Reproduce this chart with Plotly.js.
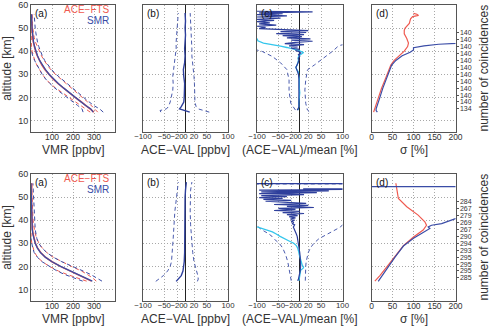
<!DOCTYPE html>
<html><head><meta charset="utf-8">
<script src="https://cdn.plot.ly/plotly-3.0.1.min.js"></script>
<style>html,body{margin:0;padding:0;background:#fff}#chart{width:494px;height:327px}</style>
</head><body><div id="chart"></div>
<script>
// ---------- DATA ----------
// (a) VMR profiles, altitude grid [km]
const altA = [13.6,15,16.5,18,20,22,24,26,28,30,32,34,36,38,40,42,44,46,48,50,52,54,56];
const aceMeanTop = [300,282,262,240,210,182,155,128,105,85,67,52,40,30,22,16,11,8,6,4.5,3.5,3,2.5];
const aceStdTop  = [18,22,26,30,34,36,37,37,35,31,27,24,22,20,17,14,10,7,5,4,3.2,2.8,2.7];
const smrMeanTop = [296,285,260,238,210,183,156,130,106,86,69,54,41,31,23,17,12,9,7,5,4,3.5,3];
const smrStdTop  = [48,42,38,38,40,42,42,40,37,33,29,26,24,23,22,20,19,17,16,15,14,13,12];
const aceMeanBot = [288,255,220,185,140,100,68,46,31,21,14,10,7,5.5,4.5,4,3.5,3,3,3,2.5,2.5,2.5];
const aceStdBot  = [23,38,48,55,52,46,37,29,22,17,13,11,9,7,5.6,4.5,3.5,2.6,2.2,2,1.5,1.5,1.5];
const smrMeanBot = [292,258,222,186,141,100,68,45,30,20,13,9,6,5,4,3.5,3,2.5,2,1.5,1,0.5,0];
const smrStdBot  = [46,55,62,62,56,47,38,30,22,17,15,14,14,14,14,14,14,13,12,11,10,10,9];

// (b) ACE-VAL [ppbv]: mean difference and +/- sigma curves
const altB1  = [13.6,14.3,15,16,18,20,23,26,29,32,35,38,41,44,47,50,53,56.5];
const meanB1 = [10,-5,-14,-10,-4,-3,-2,-2,-4,-5,-2,-1,-2,-1,0,-1,0,-1];
const loB1   = [-58,-60,-45,-40,-36,-33,-30,-29,-30,-28,-26,-24,-22,-22,-21,-19,-18,-17];
const hiB1   = [56,40,30,25,22,22,22,21,20,18,17,15,15,14,13,12,12,11];
const altB2  = [13.5,14.5,16,18,20,22,26,32,38,44,50,53,56.5];
const meanB2 = [-22,-18,-10,-6,-4,-3,-2,-2,-2,-2,-1,0,2];
const loB2   = [-70,-62,-52,-42,-36,-33,-31,-29,-27,-25,-21,-19,-17];
const hiB2   = [28,30,29,26,22,20,17,14,12,11,11,12,15];

// (c) (ACE-VAL)/mean [%]
const altC1 = [57.3,57.0,56.6,56.2,55.8,55.3,54.8,54.3,53.8,53.3,52.8,52.3,51.8,51.3,50.8,50.3,49.8,49.3,48.9,48.5,48.1,47.6,47.2,46.7,46.3,45.8,45.3,44.8,44.3,43.8,43.3,42.8,42.3,41.8,41.3,40.8,40.3,39.8,39.2,38.5,37.8,37,36,35,34,33,32,31,30,28,26,24,22,20,18,16,15,14.5];
const relC1 = [-100,30,-95,-40,-100,-30,-100,-45,-100,-60,-100,-70,-95,-55,-100,-80,-95,-30,20,-45,15,-55,10,-40,5,-30,25,-20,30,-10,-35,10,-25,-5,-20,0,-10,-2,2,-3,0,-3,-2,-4,-6,-9,-7,-4,-3,-2,-2,-1,-1,-1,-2,-2,-4,-6];
const altC1c = [14.5,16,18,20,22,24,26,28,30,31,32,33,34,35,36,37,37.5,38,38.8,39.4,40.3,41,41.6,42.2,42.8,43.5,44.5,45.5];
const cyanC1 = [-4,-2,-2,-1,0,-1,-1,-1,-3,-3,-7,-9,-6,-4,-3,-4,-3,-2,4,9,-3,-15,-30,-45,-65,-85,-98,-100];
const loC1alt = [14.5,17.5,20,23,27.5,30,32,35,37.7,39.9,40.5,42];
const loC1    = [-10,-21,-23,-25,-25,-27,-30,-45,-64,-88,-98,-130];
const hiC1alt = [13.8,14.5,17.4,20,23.2,27.5,30,31.9,34,37.7,40,42,42.6,44];
const hiC1    = [22,18,14,13,12,14,16,18,34,61,77,89,96,130];

const altC2 = [55.85,55.75,53.7,53.6,53.3,53.0,52.7,52.3,51.9,51.5,51.1,50.6,50.2,49.8,49.4,49.0,48.6,48.2,47.8,47.3,46.8,46.4,46.0,45.5,45.1,44.7,44.2,43.8,43.3,42.9,42.4,42.0,41.5,41.0,40.5,40.0,39.5,39.0,38.5,38.0,37,36,35,34,33,32,30,28,26,24,22,20,18,16,14.5,13.8];
const relC2 = [-400,400,400,8,105,-95,68,-90,40,-95,10,-90,-30,-95,-40,-85,-20,-80,-35,15,-60,20,-30,33,-50,-10,-60,0,-40,10,-30,-5,-25,-10,-22,-12,-20,-14,-18,-12,-15,-12,-9,-8,-6,-5,-3,-1,0,1,2,2,1,-1,-3,-5];
const altC2c = [13.7,15,16,17,18.3,19.2,19.7,20.4,21.5,22.6,24,25,26,27,28,29,30,31,32,33,34,34.9,36,37.1];
const cyanC2 = [-2,-1,-1,0,2,8,9,6,4,2,0,-1,-2,-3,-5,-8,-14,-25,-37,-46,-55,-64,-82,-100];
const loC2alt = [13.8,16,19,22,25,28,30,31,33,34,36,37.5,40,55.6,55.8,55.9];
const loC2    = [-20,-22,-25,-28,-33,-40,-48,-55,-65,-72,-90,-100,-140,-400,400,400];
const hiC2alt = [13.8,17,20,22,24,26,28,30,32,33,34,35,36,37,38,40,56];
const hiC2    = [13,13,14,15,17,20,25,33,45,55,65,75,85,95,100,140,400];

// (d) sigma [%]
const sigAceTopAlt = [13.6,16,20,24,28,32,34,36,38,40,42,43.5,45.5,47.5,49,50,52,54,55,55.5,56,56.4];
const sigAceTop    = [5,9,16,24,33,41,46,54,65,78,86,88,84,78,78,80,90,93,98,112,108,100];
const sigSmrTopAlt = [13.6,14.3,15,16,20,24,28,31,34,36,38,39.5,40.5,41.5,42.3,43,43.6,44.2];
const sigSmrTop    = [14,11,11,13,20,27,35,42,48,58,73,92,100,100,125,160,200,280];
const sigAceBotAlt = [13.6,16,19.7,23.3,26,29,32.7,35.7,37.8,39.3,42.2,45.8,49.4,53,56];
const sigAceBot    = [8,20,36,52,64,76,100,123,131,127,111,84,64,60,58];
const sigSmrBotAlt = [13.5,16.8,20.1,24,28.8,32.2,34.2,36.4,37.1,37.8,38.5,40,40.7,42,48,54.4,54.6,58];
const sigSmrBot    = [16,28,40,56,76,100,119,139,135,143,167,191,200,260,500,3000,-3000,-500];

// number of coincidences (right axis of d)
const coincAlt = [48,45,42,39,36,33,30,27,24,21,18,15];
const coincTop = [140,140,140,140,140,140,140,140,140,140,140,134];
const coincBot = [284,267,279,269,267,290,294,293,295,295,295,285];

// tick labels
const altTicks = [10,20,30,40,50,60];
const vmrTicks = [100,200,300];
const diffTicks = [-100,-50,-20,0,20,50,100];
const sigTicks = [0,50,100,150,200];

// ---------- STYLE ----------
const RED = '#ef5a50', BLUE = '#3a4ca6', DBLUE = '#2e3f9c', DASHB = '#4a5bae', CYAN = '#35c6ec';
const DASH = '4px,3px';
const FONT = 'Liberation Sans, Arial, Helvetica, sans-serif';
const W = 494, H = 327;

const traces = [];
function line(x, y, xa, ya, color, width, dash) {
  traces.push({x: x, y: y, xaxis: xa, yaxis: ya, type: 'scatter', mode: 'lines',
    line: {color: color, width: width, dash: dash || 'solid'}, hoverinfo: 'skip', showlegend: false});
}
const minus = (m, s) => m.map((v, i) => v - s[i]);
const plus  = (m, s) => m.map((v, i) => v + s[i]);

function panelA(xa, ya, aM, aS, sM, sS) {
  line(minus(aM, aS), altA, xa, ya, RED, 1, DASH);
  line(plus(aM, aS), altA, xa, ya, RED, 1, DASH);
  line(minus(sM, sS), altA, xa, ya, BLUE, 1, DASH);
  line(plus(sM, sS), altA, xa, ya, BLUE, 1, DASH);
  line(aM, altA, xa, ya, RED, 1.6);
  line(sM, altA, xa, ya, BLUE, 1.3);
}
panelA('x', 'y', aceMeanTop, aceStdTop, smrMeanTop, smrStdTop);
panelA('x5', 'y5', aceMeanBot, aceStdBot, smrMeanBot, smrStdBot);

line(loB1, altB1, 'x2', 'y2', DASHB, 1, DASH);
line(hiB1, altB1, 'x2', 'y2', DASHB, 1, DASH);
line(meanB1, altB1, 'x2', 'y2', DBLUE, 1.4);
line(loB2, altB2, 'x6', 'y6', DASHB, 1, DASH);
line(hiB2, altB2, 'x6', 'y6', DASHB, 1, DASH);
line(meanB2, altB2, 'x6', 'y6', DBLUE, 1.4);

line(loC1, loC1alt, 'x3', 'y3', DASHB, 1, DASH);
line(hiC1, hiC1alt, 'x3', 'y3', DASHB, 1, DASH);
line(cyanC1, altC1c, 'x3', 'y3', CYAN, 1.3);
line(relC1, altC1, 'x3', 'y3', DBLUE, 1.2);
line(loC2, loC2alt, 'x7', 'y7', DASHB, 1, DASH);
line(hiC2, hiC2alt, 'x7', 'y7', DASHB, 1, DASH);
line(cyanC2, altC2c, 'x7', 'y7', CYAN, 1.3);
line(relC2, altC2, 'x7', 'y7', DBLUE, 1.2);

line(sigAceTop, sigAceTopAlt, 'x4', 'y4', RED, 1.2);
line(sigSmrTop, sigSmrTopAlt, 'x4', 'y4', BLUE, 1.2);
line(sigAceBot, sigAceBotAlt, 'x8', 'y8', RED, 1.2);
line(sigSmrBot, sigSmrBotAlt, 'x8', 'y8', BLUE, 1.2);

// invisible anchors for the right-hand coincidence axes
traces.push({x: [100], y: [30], xaxis: 'x4', yaxis: 'y9', type: 'scatter', mode: 'markers', marker: {opacity: 0}, hoverinfo: 'skip', showlegend: false});
traces.push({x: [100], y: [30], xaxis: 'x8', yaxis: 'y10', type: 'scatter', mode: 'markers', marker: {opacity: 0}, hoverinfo: 'skip', showlegend: false});

// ---------- LAYOUT ----------
const colPx = [[31, 115], [143, 228], [257, 342.5], [371.5, 455.5]];
const rowPx = [[5, 132], [174, 301]];
const xd = c => [colPx[c][0] / W, colPx[c][1] / W];
const yd = r => [1 - rowPx[r][1] / H, 1 - rowPx[r][0] / H];

const base = {showline: true, mirror: true, linecolor: '#555', linewidth: 1,
  showgrid: true, gridcolor: '#a8a8a8', griddash: '1px,2px', gridwidth: 1,
  zeroline: false, ticks: '', tickangle: 0, tickfont: {size: 8.5, color: '#333', family: FONT}, fixedrange: true};
const titleFont = {size: 12, color: '#333', family: FONT};

const layout = {width: W, height: H, margin: {l: 0, r: 0, t: 0, b: 0},
  paper_bgcolor: '#fff', plot_bgcolor: '#fff', showlegend: false,
  font: {family: FONT, size: 9, color: '#333'}, annotations: []};

const xTitles = ['VMR [ppbv]', 'ACE\u2212VAL [ppbv]', '(ACE\u2212VAL)/mean [%]', '\u03c3 [%]'];
const xRanges = [[0, 400], [-100, 100], [-100, 100], [0, 200]];
const xTickv = [vmrTicks, diffTicks, diffTicks, sigTicks];
const letters = ['(a)', '(b)', '(c)', '(d)'];

for (let r = 0; r < 2; r++) {
  for (let c = 0; c < 4; c++) {
    const n = r * 4 + c + 1;
    const xk = n === 1 ? 'xaxis' : 'xaxis' + n;
    const yk = n === 1 ? 'yaxis' : 'yaxis' + n;
    const xid = n === 1 ? 'x' : 'x' + n;
    const yid = n === 1 ? 'y' : 'y' + n;
    layout[xk] = Object.assign({}, base, {domain: xd(c), anchor: yid, range: xRanges[c],
      tickmode: 'array', tickvals: xTickv[c], ticklabelstandoff: -3,
      tickfont: {size: (c === 1 || c === 2) ? 7.8 : 8.5, color: '#333', family: FONT},
      ticktext: xTickv[c].map(v => v < 0 ? '\u2212' + Math.abs(v) : String(v)),
      zeroline: (c === 1 || c === 2), zerolinecolor: '#222', zerolinewidth: 1});
    layout[yk] = Object.assign({}, base, {domain: yd(r), anchor: xid, range: [5, 60],
      tickmode: 'array', tickvals: altTicks, showticklabels: c === 0,
      tickfont: {size: 9, color: '#333', family: FONT},
      title: c === 0 ? {text: 'altitude [km]', font: titleFont, standoff: 6} : {text: ''}});
    // x-axis title, placed under the tick labels
    layout.annotations.push({text: xTitles[c], xref: 'paper', yref: 'paper',
      x: (colPx[c][0] + colPx[c][1]) / 2 / W, y: 1 - (rowPx[r][1] + 17.5) / H,
      xanchor: 'center', yanchor: 'middle', showarrow: false, font: titleFont});
    layout.annotations.push({text: letters[c], xref: 'paper', yref: 'paper',
      x: (colPx[c][0] + 2) / W, y: 1 - (rowPx[r][0] + 1) / H, xanchor: 'left', yanchor: 'top',
      showarrow: false, font: {size: 10, color: '#111', family: FONT}});
  }
  // legend texts in (a)
  layout.annotations.push({text: 'ACE\u2212FTS', xref: 'paper', yref: 'paper',
    x: 112 / W, y: 1 - (rowPx[r][0] + 4) / H, xanchor: 'right', yanchor: 'middle',
    showarrow: false, font: {size: 10, color: RED, family: FONT}});
  layout.annotations.push({text: 'SMR', xref: 'paper', yref: 'paper',
    x: 111 / W, y: 1 - (rowPx[r][0] + 15) / H, xanchor: 'right', yanchor: 'middle',
    showarrow: false, font: {size: 10, color: BLUE, family: FONT}});
  // number of coincidences
  layout.annotations.push({text: 'number of coincidences', xref: 'paper', yref: 'paper',
    x: 483 / W, y: 1 - ((rowPx[r][0] + rowPx[r][1]) / 2) / H, xanchor: 'center', yanchor: 'middle',
    textangle: -90, showarrow: false, font: {size: 12, color: '#333', family: FONT}});
}

const rightAx = (over, anchor, labels) => ({overlaying: over, anchor: anchor, side: 'right',
  range: [5, 60], tickmode: 'array', tickvals: coincAlt, ticktext: labels.map(String),
  showgrid: false, zeroline: false, showline: false, ticks: 'outside', ticklen: 2, tickcolor: '#555',
  tickfont: {size: 7, color: '#333', family: FONT}, fixedrange: true});
layout.yaxis9 = rightAx('y4', 'x4', coincTop);
layout.yaxis10 = rightAx('y8', 'x8', coincBot);

Plotly.newPlot('chart', traces, layout, {staticPlot: true, displayModeBar: false});
</script></body></html>
